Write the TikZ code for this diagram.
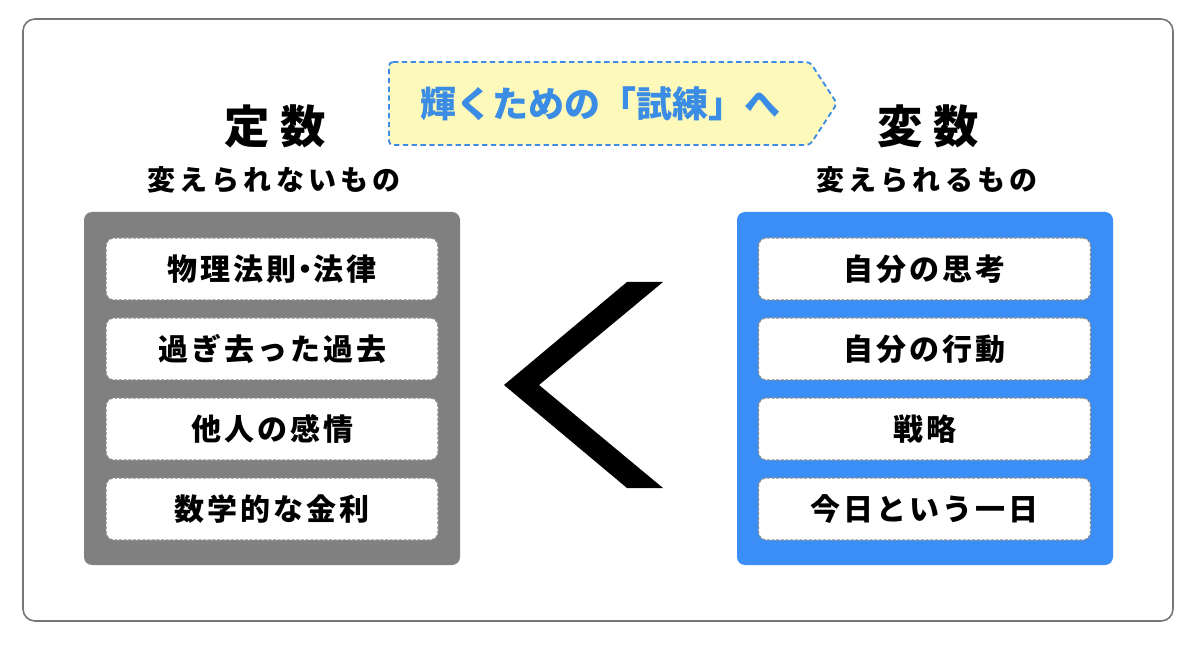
\documentclass[tikz,border=0pt]{standalone}
\usepackage{fontspec}
\newfontfamily\jp{Noto Sans CJK JP}
\definecolor{framegray}{HTML}{777777}
\definecolor{boxgray}{HTML}{808080}
\definecolor{boxblue}{HTML}{3A8EF6}
\definecolor{banfill}{HTML}{FDF9BA}
\definecolor{banline}{HTML}{3F8CE6}
\definecolor{bantext}{HTML}{3A8CE4}
\definecolor{dashgray}{HTML}{8A8A8A}
\begin{document}
\begin{tikzpicture}[x=0.75pt,y=-0.75pt,
  panel/.style={fill=#1, draw=none, rounded corners=6pt},
  item/.style={draw=dashgray, dash pattern=on 2.2pt off 1.3pt, fill=white, rounded corners=6pt, line width=0.9pt,
    minimum width=249pt, minimum height=46.5pt, inner sep=0pt,
    font=\jp\bfseries\fontsize{22.5pt}{24pt}\selectfont\addfontfeature{LetterSpace=10}},
  title/.style={inner sep=0pt, font=\jp\bfseries\fontsize{34pt}{36pt}\selectfont\addfontfeature{LetterSpace=24}},
  subtitle/.style={inner sep=0pt, font=\jp\bfseries\fontsize{21pt}{24pt}\selectfont\addfontfeature{LetterSpace=15}},
  bantxt/.style={inner sep=0pt, text=bantext, font=\jp\bfseries\fontsize{27pt}{30pt}\selectfont}]
\useasboundingbox (0,0) rectangle (1200,645);
\fill[white] (0,0) rectangle (1200,645);
% outer frame
\draw[framegray, line width=1.2pt, rounded corners=9pt] (23,19) rectangle (1173,621);
% banner
\draw[banline, fill=banfill, dash pattern=on 4pt off 2.6pt, line width=1.4pt, rounded corners=3pt]
  (389,62) -- (810,62) -- (837,103.5) -- (810,145) -- (389,145) -- cycle;
\node[bantxt] (ban) at (600,103.5) {輝くための「試練」へ};
% headings
\node[title] (lt) at (275,126.5) {定数};
\node[subtitle] (ls) at (274,180) {変えられないもの};
\node[title] (rt) at (928,126.5) {変数};
\node[subtitle] (rs) at (927,180) {変えられるもの};
% panels
\fill[panel=boxgray] (84,212) rectangle (460,565);
\fill[panel=boxblue] (737,212) rectangle (1113,565);
% items left
\node[item] (l1) at (272,269) {物理法則\kern-0.22em・\kern-0.22em法律};
\node[item] (l2) at (272,349) {過ぎ去った過去};
\node[item] (l3) at (272,429) {他人の感情};
\node[item] (l4) at (272,509) {数学的な金利};
% items right
\node[item] (r1) at (924.5,269) {自分の思考};
\node[item] (r2) at (924.5,349) {自分の行動};
\node[item] (r3) at (924.5,429) {戦略};
\node[item] (r4) at (924.5,509) {今日という一日};
% chevron
\fill[black] (627,282) -- (663,282) -- (539,385) -- (663,488) -- (627,488) -- (504,385) -- cycle;
\end{tikzpicture}
\end{document}
